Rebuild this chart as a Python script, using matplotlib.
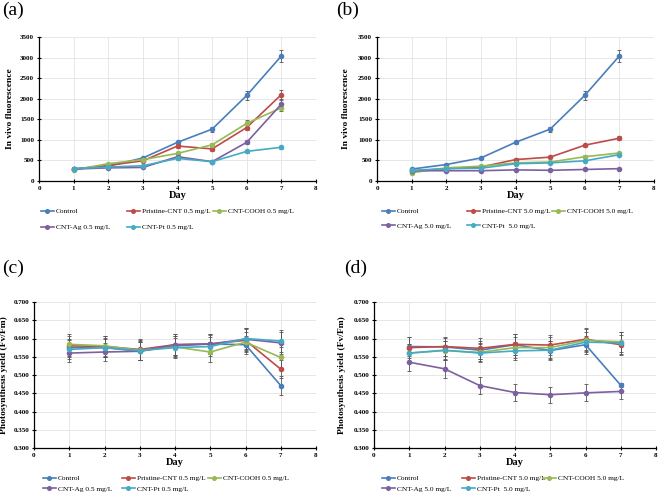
import numpy as np
import matplotlib
matplotlib.use("Agg")
import matplotlib.pyplot as plt
from matplotlib.lines import Line2D

plt.rcParams['font.family'] = ['Liberation Serif', 'DejaVu Serif']

days = [1, 2, 3, 4, 5, 6, 7]
colors = ['#4a7ebb', '#be4b48', '#98b954', '#7d60a0', '#46aac5']

names_low = ['Control', 'Pristine-CNT 0.5 mg/L', 'CNT-COOH 0.5 mg/L',
             'CNT-Ag 0.5 mg/L', 'CNT-Pt 0.5 mg/L']
names_high = ['Control', 'Pristine-CNT 5.0 mg/L', 'CNT-COOH 5.0 mg/L',
              'CNT-Ag 5.0 mg/L', 'CNT-Pt  5.0 mg/L']

# (a) in vivo fluorescence, 0.5 mg/L
fluo_low = [
    [300, 360, 560, 940, 1260, 2080, 3040],
    [280, 380, 490, 850, 780, 1300, 2100],
    [270, 420, 520, 670, 880, 1400, 1780],
    [290, 320, 330, 590, 470, 940, 1870],
    [300, 340, 370, 550, 470, 720, 820],
]
fluo_low_err = [
    [20, 20, 30, 40, 60, 110, 150],
    [15, 20, 25, 40, 40, 70, 110],
    [15, 20, 25, 30, 40, 80, 90],
    [15, 15, 20, 30, 25, 50, 100],
    [15, 15, 20, 30, 25, 35, 40],
]

# (b) in vivo fluorescence, 5.0 mg/L
fluo_high = [
    [290, 400, 560, 940, 1260, 2080, 3040],
    [240, 300, 340, 520, 580, 870, 1040],
    [200, 320, 360, 440, 460, 590, 680],
    [250, 250, 250, 270, 260, 280, 300],
    [260, 300, 310, 420, 440, 490, 640],
]
fluo_high_err = [
    [20, 20, 30, 40, 60, 110, 150],
    [15, 15, 20, 30, 30, 40, 50],
    [10, 15, 20, 20, 25, 30, 35],
    [10, 10, 10, 15, 15, 15, 15],
    [10, 15, 15, 20, 20, 25, 30],
]

# (c) photosynthesis yield, 0.5 mg/L
yield_low = [
    [0.575, 0.575, 0.565, 0.580, 0.585, 0.583, 0.471],
    [0.580, 0.578, 0.570, 0.583, 0.585, 0.595, 0.516],
    [0.584, 0.580, 0.568, 0.577, 0.563, 0.590, 0.548],
    [0.560, 0.563, 0.565, 0.583, 0.585, 0.598, 0.588],
    [0.570, 0.575, 0.567, 0.575, 0.578, 0.600, 0.593],
]
yield_low_err = [
    [0.025, 0.025, 0.025, 0.028, 0.025, 0.025, 0.025],
    [0.028, 0.028, 0.028, 0.028, 0.028, 0.030, 0.025],
    [0.027, 0.027, 0.027, 0.030, 0.027, 0.028, 0.028],
    [0.025, 0.025, 0.025, 0.028, 0.028, 0.030, 0.030],
    [0.027, 0.027, 0.027, 0.027, 0.027, 0.030, 0.030],
]

# (d) photosynthesis yield, 5.0 mg/L
yield_high = [
    [0.578, 0.577, 0.568, 0.583, 0.567, 0.583, 0.472],
    [0.575, 0.578, 0.573, 0.584, 0.582, 0.598, 0.583],
    [0.560, 0.567, 0.562, 0.575, 0.575, 0.595, 0.591],
    [0.535, 0.517, 0.471, 0.452, 0.446, 0.451, 0.455],
    [0.560, 0.568, 0.560, 0.566, 0.568, 0.590, 0.588],
]
yield_high_err = [
    [0.025, 0.025, 0.025, 0.028, 0.027, 0.025, 0.005],
    [0.028, 0.027, 0.028, 0.028, 0.028, 0.030, 0.027],
    [0.025, 0.025, 0.025, 0.028, 0.028, 0.030, 0.028],
    [0.025, 0.025, 0.023, 0.023, 0.022, 0.023, 0.022],
    [0.025, 0.025, 0.025, 0.025, 0.025, 0.028, 0.030],
]

W, H = 660, 496
fig = plt.figure(figsize=(W / 100, H / 100), dpi=100)


def panel(label, box, values, errs, names, ylim, yticks, ylabel, yfmt,
          lab_xy, ylab_x, leg_cols, leg_rows):
    l, r, t, b = box
    ax = fig.add_axes([l / W, 1 - b / H, (r - l) / W, (b - t) / H])
    for vals, err, c in zip(values, errs, colors):
        ax.errorbar(days, vals, yerr=err, color=c, lw=1.2, marker='o', ms=3.0,
                    ecolor='#555555', elinewidth=0.6, capsize=1.3, capthick=0.6,
                    zorder=3)
    ax.set_xlim(0, 8)
    ax.set_ylim(*ylim)
    ax.set_xticks(range(9))
    ax.set_yticks(yticks)
    ax.set_yticklabels([yfmt.format(v) for v in yticks])
    ax.grid(True, color='#e3e3e3', lw=0.6, zorder=0)
    for s in ['top', 'right']:
        ax.spines[s].set_visible(False)
    for s in ['left', 'bottom']:
        ax.spines[s].set_color('black')
        ax.spines[s].set_linewidth(0.9)
    ax.tick_params(axis='both', direction='inout', length=3, width=0.8,
                   labelsize=5, pad=2)
    for lbl in ax.get_xticklabels() + ax.get_yticklabels():
        lbl.set_fontweight('bold')
    ax.set_xlabel('Day', fontsize=7.5, fontweight='bold', labelpad=0)
    ax.set_ylabel(ylabel, fontsize=6.8, fontweight='bold')
    ax.yaxis.set_label_coords((ylab_x - l) / (r - l), 0.5)

    # Excel style legend: fixed column widths, row-major order
    for i, (name, c) in enumerate(zip(names, colors)):
        px = leg_cols[i % 3]
        py = leg_rows[i // 3]
        h = Line2D([], [], color=c, lw=1.2, marker='o', ms=2.6)
        fig.legend([h], [name], loc='center left',
                   bbox_to_anchor=(px / W, 1 - py / H), frameon=False,
                   fontsize=5.3, handlelength=1.7, handletextpad=0.3,
                   borderaxespad=0, borderpad=0)
    fig.text(lab_xy[0] / W, 1 - lab_xy[1] / H, label, fontsize=14,
             va='top', ha='left')
    return ax


fl_ticks = list(range(0, 3501, 500))
yl_ticks = list(np.round(np.arange(0.3, 0.7001, 0.05), 3))

panel('(a)', (39, 316, 37, 181), fluo_low, fluo_low_err, names_low,
      (0, 3500), fl_ticks, 'In vivo fluorescence', '{:.0f}', (2, 2), 14,
      [41, 127, 213], [211, 227])
panel('(b)', (377, 654, 37, 181), fluo_high, fluo_high_err, names_high,
      (0, 3500), fl_ticks, 'In vivo fluorescence', '{:.0f}', (336, 2), 350,
      [382, 467, 552], [211, 226])
panel('(c)', (34, 316, 302, 448), yield_low, yield_low_err, names_low,
      (0.3, 0.7), yl_ticks, 'Photosynthesis yield (Fv/Fm)', '{:.3f}', (2, 260), 8,
      [43, 122, 208], [478, 489])
panel('(d)', (374, 656, 302, 448), yield_high, yield_high_err, names_high,
      (0.3, 0.7), yl_ticks, 'Photosynthesis yield (Fv/Fm)', '{:.3f}', (344, 260), 346,
      [382, 462, 543], [478, 489])

fig.savefig('out.png', dpi=100)
